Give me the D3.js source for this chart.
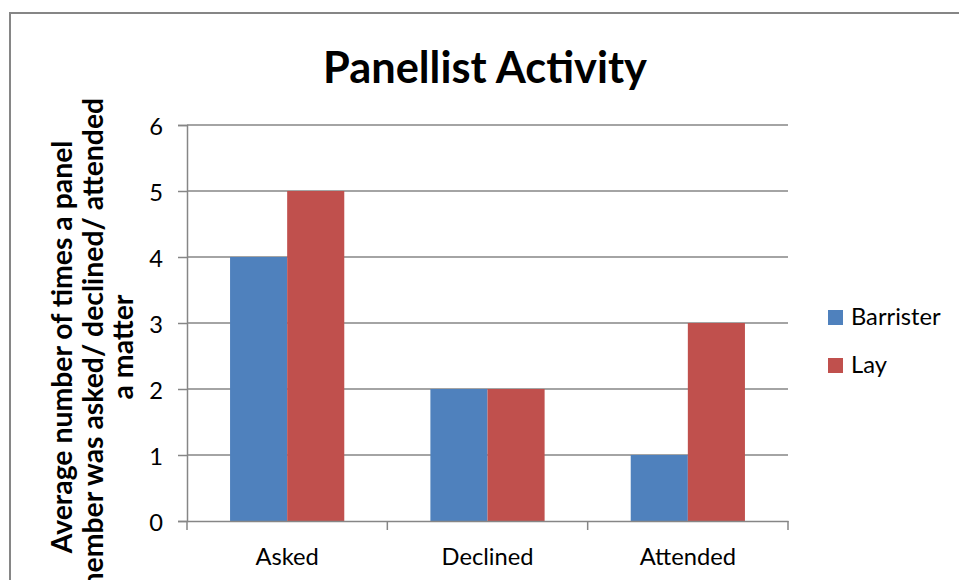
<!DOCTYPE html>
<html>
<head>
<meta charset="utf-8">
<script src="https://cdn.jsdelivr.net/npm/d3@7"></script>
<style>
  html, body { margin: 0; padding: 0; background: #fff; }
  svg { display: block; }
  text { font-family: Lato, "Open Sans", sans-serif; fill: #000; }
</style>
</head>
<body>
<svg id="chart" width="959" height="580"></svg>
<script>
// Chart data
const categories = ["Asked", "Declined", "Attended"];
const seriesNames = ["Barrister", "Lay"];
const barristerValues = [4, 2, 1];
const layValues = [5, 2, 3];
const yTicks = [0, 1, 2, 3, 4, 5, 6];
const chartTitle = "Panellist Activity";
const yTitleLines = ["Average number of times a panel", "member was asked/ declined/ attended", "a matter"];
const seriesColors = ["#4F81BD", "#C0504D"];

const svg = d3.select("#chart");
const plot = { left: 187, right: 788, top: 125, bottom: 521 };
const axisColor = "#868686";

// Outer chart frame (runs off the right and bottom edges)
svg.append("rect")
  .attr("x", 10).attr("y", 13)
  .attr("width", 1000).attr("height", 1000)
  .attr("fill", "#fff")
  .attr("stroke", axisColor).attr("stroke-width", 2);

// Scales
const x0 = d3.scaleBand().domain(categories).range([plot.left, plot.right]).paddingInner(0).paddingOuter(0);
const x1 = d3.scaleBand().domain(seriesNames).range([0, x0.bandwidth()]).paddingInner(0).paddingOuter(0.754);
const y = d3.scaleLinear().domain([0, 6]).range([plot.bottom, plot.top]);

// Fit a text element's font size so that it spans the given width
function fitWidth(sel, target) {
  const node = sel.node();
  const fs = parseFloat(sel.attr("font-size"));
  const w = node.getComputedTextLength();
  sel.attr("font-size", (fs * target / w).toFixed(2));
  return fs * target / w;
}

// Label font size, calibrated from a category label width
const probe = svg.append("text").attr("font-size", 20).text("Declined");
const labelSize = Math.max(18, Math.min(24, fitWidth(probe, 92)));
probe.remove();

// Horizontal gridlines
svg.append("g")
  .selectAll("line")
  .data(yTicks.filter(d => d > 0))
  .join("line")
  .attr("x1", plot.left).attr("x2", plot.right)
  .attr("y1", d => y(d)).attr("y2", d => y(d))
  .attr("stroke", axisColor).attr("stroke-width", 1.5);

// Bars
const series = [barristerValues, layValues];
const groups = svg.append("g").selectAll("g")
  .data(categories)
  .join("g")
  .attr("transform", d => `translate(${x0(d)},0)`);

groups.selectAll("rect")
  .data((c, i) => seriesNames.map((s, k) => ({ s, k, v: series[k][i] })))
  .join("rect")
  .attr("x", d => x1(d.s))
  .attr("width", x1.bandwidth())
  .attr("y", d => y(d.v))
  .attr("height", d => y(0) - y(d.v))
  .attr("fill", d => seriesColors[d.k]);

// Y axis
const yAxis = d3.axisLeft(y).tickValues(yTicks).tickSize(9).tickPadding(15).tickFormat(d3.format("d"));
const gy = svg.append("g").attr("transform", `translate(${plot.left},0)`).call(yAxis);
gy.select(".domain").attr("stroke", axisColor).attr("stroke-width", 1.5);
gy.selectAll(".tick line").attr("stroke", axisColor).attr("stroke-width", 1.5);
gy.selectAll(".tick text")
  .attr("font-size", labelSize)
  .attr("font-family", "Lato, sans-serif")
  .attr("fill", "#000")
  .attr("dy", "0.42em");

// X axis with tick marks at category boundaries
const xAxis = d3.axisBottom(x0).tickSize(0).tickPadding(0);
const gx = svg.append("g").attr("transform", `translate(0,${plot.bottom})`).call(xAxis);
gx.select(".domain").attr("stroke", axisColor).attr("stroke-width", 1.5);
gx.selectAll(".tick text")
  .attr("font-size", labelSize)
  .attr("font-family", "Lato, sans-serif")
  .attr("fill", "#000")
  .attr("dy", null)
  .attr("y", 44);
const boundaries = categories.map(c => x0(c)).concat([x0(categories[categories.length - 1]) + x0.bandwidth()]);
gx.selectAll("line.bound")
  .data(boundaries)
  .join("line")
  .attr("class", "bound")
  .attr("x1", d => d).attr("x2", d => d)
  .attr("y1", 0).attr("y2", 9)
  .attr("stroke", axisColor).attr("stroke-width", 1.5);

// Title
const title = svg.append("text")
  .attr("x", 485).attr("y", 83)
  .attr("text-anchor", "middle")
  .attr("font-weight", "bold")
  .attr("font-size", 44)
  .text(chartTitle);
fitWidth(title, 324);

// Y axis title (three rotated lines)
const yTitle = svg.append("text")
  .attr("transform", "translate(0,347) rotate(-90)")
  .attr("text-anchor", "middle")
  .attr("font-weight", "bold")
  .attr("font-size", 24);
const baselines = [72, 102.5, 133];
yTitle.selectAll("tspan")
  .data(yTitleLines)
  .join("tspan")
  .attr("x", 0)
  .attr("y", (d, i) => baselines[i])
  .text(d => d);
// size from the first line's width
const firstLine = yTitle.select("tspan").node();
const w1 = firstLine.getComputedTextLength();
yTitle.attr("font-size", (24 * 413 / w1).toFixed(2));

// Legend
const legend = svg.append("g");
const legendRows = [310, 358];
seriesNames.forEach((name, i) => {
  legend.append("rect")
    .attr("x", 828).attr("y", legendRows[i])
    .attr("width", 15).attr("height", 15)
    .attr("fill", seriesColors[i]);
  legend.append("text")
    .attr("x", 851).attr("y", legendRows[i] + 15)
    .attr("font-size", labelSize)
    .text(name);
});
</script>
</body>
</html>
